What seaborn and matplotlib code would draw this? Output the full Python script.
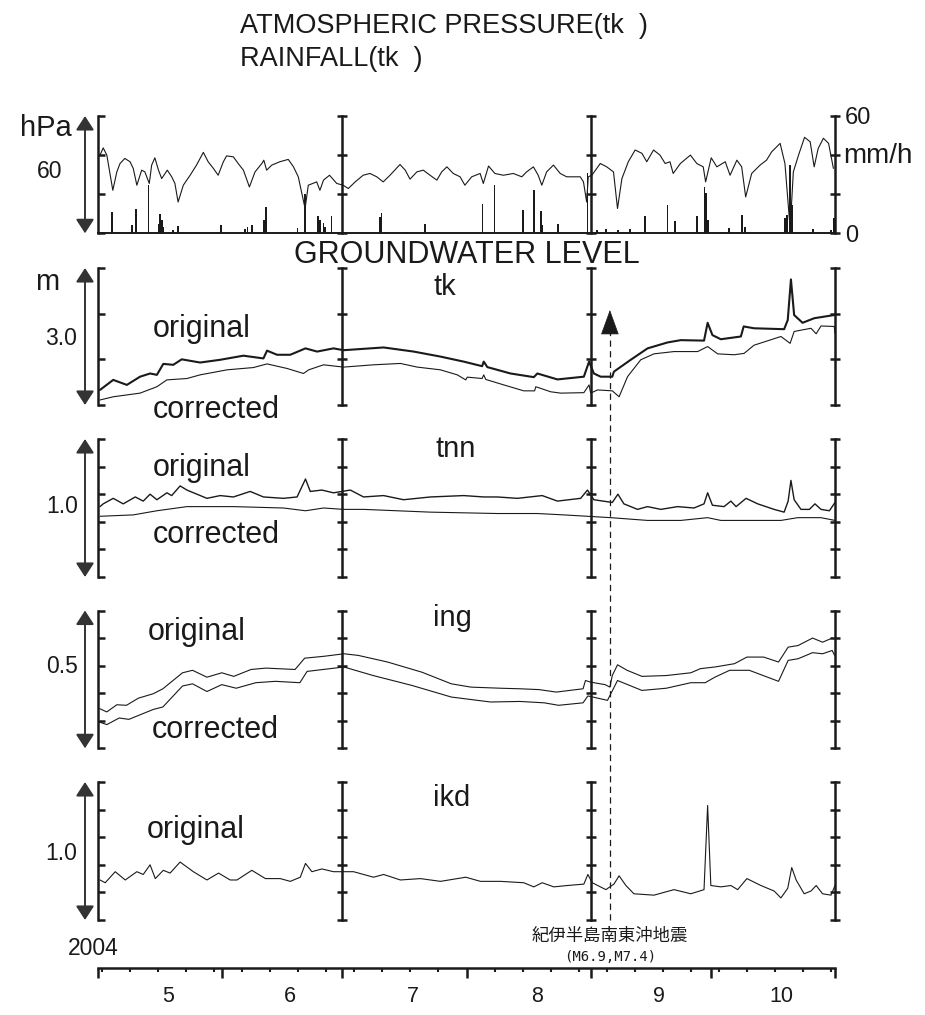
import numpy as np
import matplotlib
matplotlib.use('Agg')
import matplotlib.pyplot as plt
import seaborn as sns
from matplotlib.lines import Line2D
from matplotlib.transforms import blended_transform_factory

# ---------------- data (day 0 = 2004-05-01) ----------------
month_labels = ['5', '6', '7', '8', '9', '10']
month_start_days = [0, 31, 61, 92, 123, 153, 184]
year_label = '2004'
quake_day = 127.8
quake_name = '紀伊半島南東沖地震'
quake_mag = '(M6.9,M7.4)'

pres_day = [0.5, 1.3, 2.2, 3.7, 4.7, 5.5, 6.7, 8.0, 8.8, 9.7, 10.9, 11.7, 12.8, 13.4, 14.2, 15.1,
            15.9, 17.3, 18.4, 19.2, 20.0, 21.3, 23.0, 24.6, 26.3, 27.5, 28.8, 30.0, 31.3, 32.1,
            33.8, 35.0, 36.3, 37.8, 39.2, 40.9, 41.4, 42.1, 43.4, 45.4, 47.5, 48.8, 50.0, 51.7,
            52.5, 54.6, 55.4, 56.3, 57.8, 59.6, 61.2, 62.5, 64.2, 66.2, 67.9, 69.6, 71.2, 72.9,
            75.4, 76.7, 77.9, 79.6, 81.2, 82.9, 84.6, 85.8, 87.1, 88.7, 90.4, 91.6, 93.3, 95.4,
            96.2, 97.5, 99.1, 101.2, 103.7, 105.8, 107.0, 108.7, 109.9, 110.8, 112.0, 113.7,
            115.4, 117.0, 118.7, 120.4, 121.2, 122.0, 122.4, 123.3, 125.4, 127.0, 128.7, 129.7,
            130.8, 132.4, 134.1, 135.8, 137.0, 138.7, 140.3, 141.6, 142.8, 143.6, 145.4, 147.9,
            149.5, 151.1, 151.7, 153.1, 154.5, 156.6, 157.8, 159.5, 160.7, 161.7, 163.2, 165.3,
            166.9, 168.2, 170.3, 171.5, 172.8, 173.6, 174.9, 176.4, 177.8, 178.8, 179.8, 181.1,
            182.4, 183.6]
pres_hpa = [1010.0, 1013.7, 1010.0, 992.0, 1001.4, 1005.7, 1008.3, 1006.6, 1003.2, 994.6, 1002.3,
            1001.4, 995.5, 1004.9, 1008.6, 1002.3, 998.0, 1002.3, 998.9, 995.5, 986.0, 994.6,
            999.7, 1004.9, 1011.4, 1006.6, 1003.2, 999.7, 1006.6, 1009.6, 1009.1, 1005.7, 1002.3,
            993.7, 1001.4, 1005.7, 1007.4, 1002.3, 1004.9, 1006.6, 1007.8, 1004.0, 998.9, 982.7,
            994.6, 996.3, 992.0, 997.2, 999.7, 995.5, 994.6, 992.9, 996.3, 999.7, 1000.6, 998.9,
            996.3, 999.7, 1005.2, 1002.3, 997.7, 1001.4, 1002.3, 999.7, 997.2, 1001.4, 1004.0,
            1000.6, 998.9, 994.6, 998.9, 1000.6, 995.5, 1004.4, 1000.6, 999.7, 1000.6, 998.9,
            1001.4, 1004.0, 999.7, 994.6, 1001.4, 1004.9, 1000.6, 998.9, 998.9, 998.9, 996.3,
            986.0, 998.9, 999.7, 1005.7, 1004.0, 1001.4, 982.7, 998.0, 1006.6, 1012.6, 1010.9,
            1006.6, 1012.6, 1010.0, 1005.7, 1006.6, 1000.6, 1005.7, 1010.0, 1005.7, 1004.0, 996.3,
            1008.6, 1004.0, 1006.6, 999.7, 1007.4, 1004.0, 988.6, 1000.6, 1004.9, 1007.4, 1011.7,
            1016.0, 1005.7, 972.4, 1001.4, 1010.0, 1019.1, 1016.8, 1004.0, 1013.4, 1018.6,
            1016.0, 1003.2]

rain_day = [3.4, 8.4, 9.4, 12.6, 15.1, 15.5, 15.9, 16.3, 18.8, 20.0, 30.7, 36.7, 37.3, 38.4, 41.4,
            41.9, 49.8, 51.7, 55.0, 55.4, 56.3, 56.7, 58.3, 70.4, 70.8, 71.6, 77.1, 81.6, 96.0,
            99.0, 106.2, 108.9, 110.5, 110.9, 114.9, 122.2, 124.5, 126.8, 129.9, 132.8, 136.6,
            142.2, 144.1, 149.5, 151.4, 151.7, 152.3, 157.6, 160.7, 161.5, 171.5, 172.1, 172.8,
            173.2, 178.6, 183.0, 183.8]
rain_mmh = [11.0, 4.3, 12.5, 24.8, 5.0, 10.0, 7.0, 3.4, 1.7, 3.8, 4.3, 2.2, 3.4, 4.3, 6.8, 13.3,
            2.6, 20.0, 9.0, 6.8, 5.1, 3.4, 9.0, 8.5, 10.3, 0.9, 0.9, 4.6, 15.0, 24.8, 12.0, 21.9,
            11.6, 4.3, 4.6, 30.8, 1.7, 2.2, 1.7, 2.2, 8.9, 14.5, 6.3, 8.9, 23.9, 20.5, 6.8, 2.9,
            9.4, 3.4, 7.7, 9.4, 35.0, 14.5, 2.2, 1.7, 7.7]

tk_orig_day = [0.5, 3.8, 7.2, 10.5, 13.0, 14.7, 16.3, 18.8, 20.9, 25.5, 30.5, 36.3, 41.3, 42.2,
               44.7, 48.0, 51.8, 54.7, 58.8, 61.3, 71.3, 78.8, 85.5, 91.3, 95.9, 96.3, 97.2,
               103.0, 108.8, 109.7, 114.7, 121.3, 122.6, 123.8, 125.5, 128.4, 128.8, 133.0,
               137.2, 142.2, 145.5, 151.3, 152.2, 153.4, 155.5, 160.5, 161.2, 163.8, 171.3,
               172.2, 173.0, 173.8, 175.9, 178.8, 183.8]
tk_orig_m = [0.33, 0.55, 0.44, 0.62, 0.69, 0.66, 0.90, 0.88, 1.00, 0.93, 0.99, 1.08, 1.02, 1.19,
             1.10, 1.10, 1.24, 1.17, 1.24, 1.20, 1.26, 1.17, 1.06, 0.95, 0.85, 0.95, 0.83, 0.69,
             0.61, 0.69, 0.56, 0.62, 0.95, 0.69, 0.62, 0.62, 0.73, 0.99, 1.24, 1.37, 1.42, 1.41,
             1.80, 1.53, 1.44, 1.50, 1.72, 1.68, 1.66, 1.86, 2.75, 1.97, 1.80, 1.90, 1.97]
tk_corr_day = [0.5, 3.8, 10.5, 14.7, 17.2, 22.2, 25.5, 32.2, 38.8, 42.2, 47.2, 51.3, 52.6, 56.3,
               61.3, 68.8, 75.5, 79.7, 85.5, 89.7, 91.8, 92.2, 95.9, 96.3, 96.8, 101.3, 106.3,
               109.0, 109.3, 113.0, 115.5, 121.3, 122.6, 123.0, 124.7, 128.4, 130.1, 132.2,
               135.5, 138.8, 143.8, 149.7, 152.2, 154.7, 158.8, 161.3, 163.8, 170.5, 172.8,
               173.8, 178.0, 179.3, 180.5, 183.8, 184.0]
tk_corr_m = [0.11, 0.18, 0.26, 0.40, 0.55, 0.58, 0.66, 0.77, 0.82, 0.90, 0.80, 0.69, 0.77, 0.88,
             0.83, 0.88, 0.91, 0.83, 0.77, 0.66, 0.55, 0.61, 0.58, 0.66, 0.56, 0.44, 0.31, 0.31,
             0.40, 0.29, 0.26, 0.27, 0.44, 0.26, 0.33, 0.31, 0.18, 0.62, 0.99, 1.12, 1.17, 1.17,
             1.28, 1.12, 1.10, 1.13, 1.31, 1.50, 1.35, 1.61, 1.68, 1.56, 1.73, 1.72, 1.57]

tnn_orig_day = [0.5, 1.3, 3.8, 6.3, 9.3, 11.3, 13.0, 14.7, 17.2, 18.4, 20.5, 22.2, 27.2, 30.5,
                33.8, 38.0, 41.3, 46.3, 49.7, 51.8, 53.0, 55.9, 58.8, 63.0, 66.3, 71.3, 76.3,
                83.0, 91.3, 96.3, 99.7, 104.7, 110.9, 114.7, 120.5, 122.2, 123.8, 128.4, 129.8,
                131.3, 134.7, 137.2, 140.5, 144.7, 148.8, 151.3, 152.2, 153.4, 156.3, 158.0,
                159.3, 161.8, 164.7, 168.8, 171.3, 172.3, 173.0, 173.8, 175.5, 177.6, 179.0,
                180.5, 182.6, 184.0]
tnn_orig_m = [0.51, 0.53, 0.57, 0.53, 0.58, 0.55, 0.60, 0.56, 0.61, 0.59, 0.66, 0.63, 0.57, 0.59,
              0.58, 0.62, 0.58, 0.57, 0.58, 0.71, 0.62, 0.63, 0.61, 0.63, 0.58, 0.59, 0.56, 0.58,
              0.59, 0.58, 0.58, 0.57, 0.59, 0.55, 0.57, 0.63, 0.56, 0.54, 0.60, 0.53, 0.49, 0.51,
              0.49, 0.51, 0.50, 0.53, 0.61, 0.52, 0.51, 0.55, 0.51, 0.57, 0.53, 0.49, 0.47, 0.55,
              0.70, 0.56, 0.49, 0.49, 0.53, 0.49, 0.48, 0.54]
tnn_corr_day = [0.5, 8.8, 14.7, 22.2, 33.8, 46.3, 51.8, 56.3, 61.3, 66.3, 83.0, 99.7, 109.7, 116.3,
                122.2, 128.0, 137.2, 145.5, 152.2, 155.5, 170.5, 174.7, 180.5, 184.0]
tnn_corr_m = [0.44, 0.45, 0.48, 0.51, 0.51, 0.50, 0.48, 0.50, 0.49, 0.49, 0.47, 0.46, 0.46, 0.45,
              0.44, 0.43, 0.41, 0.41, 0.43, 0.41, 0.41, 0.43, 0.43, 0.41]

ing_orig_day = [0.4, 2.2, 4.7, 7.1, 10.1, 13.8, 16.2, 21.1, 23.6, 27.2, 30.9, 33.9, 38.2, 41.9, 49.2,
                51.6, 56.5, 61.4, 65.0, 72.3, 80.9, 88.2, 93.1, 100.4, 105.3, 110.1, 114.4, 121.1,
                121.7, 123.0, 126.6, 127.8, 128.4, 129.7, 132.1, 135.8, 141.9, 148.0, 150.4, 154.0,
                158.9, 162.0, 166.2, 169.9, 172.3, 174.8, 178.4, 180.9, 183.3]
ing_orig_m = [0.144, 0.132, 0.158, 0.156, 0.182, 0.198, 0.216, 0.274, 0.283, 0.258, 0.274, 0.261,
              0.286, 0.291, 0.286, 0.327, 0.334, 0.343, 0.337, 0.313, 0.276, 0.234, 0.222, 0.218,
              0.216, 0.213, 0.204, 0.216, 0.246, 0.240, 0.231, 0.222, 0.264, 0.303, 0.283, 0.261,
              0.264, 0.274, 0.289, 0.295, 0.307, 0.331, 0.331, 0.313, 0.367, 0.373, 0.400, 0.385,
              0.400]
ing_corr_day = [0.4, 2.2, 5.3, 7.7, 13.8, 16.2, 21.1, 23.6, 27.2, 30.9, 34.5, 39.4, 44.3, 50.4, 52.2,
                61.4, 68.7, 78.4, 88.2, 98.0, 105.3, 111.4, 115.0, 121.1, 122.3, 127.2, 129.7,
                135.8, 141.9, 148.0, 151.6, 154.0, 157.7, 162.6, 169.9, 172.3, 174.8, 178.4,
                180.9, 183.3, 183.9]
ing_corr_m = [0.095, 0.086, 0.110, 0.105, 0.141, 0.150, 0.226, 0.234, 0.206, 0.231, 0.218, 0.238,
              0.243, 0.238, 0.279, 0.295, 0.264, 0.228, 0.186, 0.168, 0.170, 0.165, 0.156, 0.165,
              0.190, 0.174, 0.246, 0.210, 0.218, 0.238, 0.238, 0.258, 0.283, 0.283, 0.243, 0.319,
              0.325, 0.347, 0.343, 0.355, 0.337]

ikd_orig_day = [0.5, 1.8, 4.3, 6.8, 9.7, 11.3, 13.0, 14.3, 16.3, 18.0, 20.5, 23.8, 27.2, 30.1, 33.0,
                34.7, 38.4, 41.8, 45.5, 48.0, 50.5, 51.8, 53.4, 55.9, 58.8, 63.8, 68.8, 71.3, 75.5,
                80.5, 85.5, 91.8, 95.5, 100.5, 106.3, 108.8, 110.9, 113.8, 117.2, 121.3, 122.3,
                123.4, 126.8, 128.8, 130.1, 131.8, 133.8, 138.8, 143.8, 148.0, 151.3, 152.2, 153.0,
                155.5, 158.0, 159.7, 162.0, 165.5, 168.8, 170.5, 172.2, 173.2, 174.3, 176.3, 178.0,
                179.3, 180.9, 183.0, 184.0]
ikd_orig_m = [0.29, 0.27, 0.35, 0.29, 0.35, 0.33, 0.40, 0.30, 0.36, 0.34, 0.42, 0.35, 0.29, 0.34,
              0.29, 0.29, 0.36, 0.30, 0.30, 0.28, 0.31, 0.41, 0.35, 0.37, 0.35, 0.35, 0.31, 0.33,
              0.29, 0.30, 0.28, 0.31, 0.28, 0.28, 0.27, 0.24, 0.27, 0.24, 0.25, 0.26, 0.33, 0.27,
              0.22, 0.26, 0.32, 0.25, 0.19, 0.18, 0.22, 0.19, 0.22, 0.83, 0.25, 0.24, 0.25, 0.22,
              0.30, 0.25, 0.21, 0.16, 0.23, 0.38, 0.29, 0.19, 0.21, 0.25, 0.19, 0.18, 0.25]

pres_ticks = [970, 990, 1010, 1030]
rain_ticks = [0, 20, 40, 60]
rain_ticklabels = ['0', '', '', '60']
tk_ticks = [0.0, 1.0, 2.0, 3.0]
tnn_ticks = [0.0, 0.2, 0.4, 0.6, 0.8, 1.0]
ing_ticks = [0.0, 0.1, 0.2, 0.3, 0.4, 0.5]
ikd_ticks = [0.0, 0.2, 0.4, 0.6, 0.8, 1.0]

# ---------------- style ----------------
INK = '#1a1a1a'
sns.set_style('white', rc={'axes.edgecolor': INK, 'text.color': INK,
                           'xtick.color': INK, 'ytick.color': INK})
plt.rcParams['font.family'] = ['Liberation Sans', 'Noto Sans CJK JP', 'DejaVu Sans']

W, H = 925, 1015
X0, X1 = 98, 835
LW = 1.8
DAY_MAX = month_start_days[-1]
bracket_days = [month_start_days[2], month_start_days[4], month_start_days[6]]
ARROW_X = (85 - X0) / (X1 - X0)


def fx(px):
    return px / W


def fy(py):
    return 1 - py / H


fig = plt.figure(figsize=(W / 100, H / 100), dpi=100)
fig.patch.set_facecolor('white')


def add_panel(top, bottom):
    return fig.add_axes([fx(X0), fy(bottom), fx(X1) - fx(X0), (bottom - top) / H])


def style_panel(ax, ticks, bottom_spine=False):
    ax.set_xlim(0, DAY_MAX)
    ax.set_ylim(ticks[0], ticks[-1])
    ax.set_xlabel('')
    ax.set_ylabel('')
    ax.set_facecolor('none')
    ax.spines['top'].set_visible(False)
    ax.spines['right'].set_visible(False)
    ax.spines['bottom'].set_visible(bottom_spine)
    ax.spines['bottom'].set_linewidth(1.4)
    ax.spines['left'].set_linewidth(LW)
    ax.set_xticks([])
    ax.set_yticks(ticks)
    ax.tick_params(axis='y', which='major', left=True, right=False, direction='in',
                   length=5, width=LW, labelleft=False)
    for d in bracket_days:
        sec = ax.secondary_yaxis(d / DAY_MAX)
        sec.set_yticks(ticks)
        sec.tick_params(axis='y', direction='inout', length=6.5, width=LW,
                        labelleft=False, labelright=False)
        for sp in sec.spines.values():
            sp.set_linewidth(LW)
    ax.annotate('', xy=(ARROW_X, 1), xytext=(ARROW_X, 0), xycoords='axes fraction',
                textcoords='axes fraction', annotation_clip=False,
                arrowprops=dict(arrowstyle='<|-|>,head_length=0.85,head_width=0.55',
                                mutation_scale=10, color='#333333', lw=1.4,
                                shrinkA=0, shrinkB=0))


def line(ax, x, y, lw=0.8):
    sns.lineplot(x=x, y=y, ax=ax, color=INK, linewidth=lw, estimator=None, sort=False)


# ---- pressure / rainfall panel ----
ax_p = add_panel(116, 233.3)
line(ax_p, pres_day, pres_hpa, lw=0.8)
style_panel(ax_p, pres_ticks, bottom_spine=True)
ax_r = ax_p.twinx()
ax_r.bar(rain_day, rain_mmh, width=0.45, color=INK, linewidth=0)
ax_r.set_ylim(rain_ticks[0], rain_ticks[-1])
ax_r.set_xlim(0, DAY_MAX)
ax_r.set_yticks(rain_ticks)
ax_r.set_yticklabels(rain_ticklabels)
ax_r.tick_params(axis='y', length=0, pad=7, labelsize=17)
for sp in ax_r.spines.values():
    sp.set_visible(False)

# ---- groundwater panels ----
ax_tk = add_panel(268, 405)
line(ax_tk, tk_orig_day, tk_orig_m, lw=1.5)
line(ax_tk, tk_corr_day, tk_corr_m, lw=0.8)
style_panel(ax_tk, tk_ticks)

ax_tnn = add_panel(439, 577)
line(ax_tnn, tnn_orig_day, tnn_orig_m, lw=1.0)
line(ax_tnn, tnn_corr_day, tnn_corr_m, lw=0.8)
style_panel(ax_tnn, tnn_ticks)

ax_ing = add_panel(610.5, 748.3)
line(ax_ing, ing_orig_day, ing_orig_m, lw=0.8)
line(ax_ing, ing_corr_day, ing_corr_m, lw=0.8)
style_panel(ax_ing, ing_ticks)

ax_ikd = add_panel(782, 920)
line(ax_ikd, ikd_orig_day, ikd_orig_m, lw=0.8)
style_panel(ax_ikd, ikd_ticks)

# ---- time axis ----
ax_t = fig.add_axes([fx(X0), fy(968), fx(X1) - fx(X0), 0.0005])
ax_t.set_facecolor('none')
ax_t.set_xlim(0, DAY_MAX)
for s in ['top', 'left', 'right']:
    ax_t.spines[s].set_visible(False)
ax_t.spines['bottom'].set_linewidth(LW)
ax_t.set_yticks([])
ax_t.set_xticks(month_start_days)
ax_t.set_xticks(np.arange(1, DAY_MAX, 7), minor=True)
ax_t.tick_params(axis='x', which='major', bottom=True, top=False, direction='out',
                 length=7, width=LW, labelbottom=False)
ax_t.tick_params(axis='x', which='minor', bottom=True, top=False, direction='out',
                 length=3, width=1.5, labelbottom=False)
tr_t = blended_transform_factory(ax_t.transData, fig.transFigure)
for lab, a, b in zip(month_labels, month_start_days[:-1], month_start_days[1:]):
    ax_t.text((a + b) / 2 + 2, fy(997), lab, transform=tr_t, ha='center', va='center',
              fontsize=15.5)

# ---- earthquake marker ----
tr_q = blended_transform_factory(ax_ikd.transData, fig.transFigure)
fig.add_artist(Line2D([quake_day, quake_day], [fy(920), fy(332)], transform=tr_q,
                      color=INK, lw=0.9, linestyle=(0, (5, 3.5))))
ax_tk.annotate('', xy=(quake_day, fy(310)), xytext=(quake_day, fy(334)),
               xycoords=('data', 'figure fraction'), textcoords=('data', 'figure fraction'),
               annotation_clip=False,
               arrowprops=dict(arrowstyle='-|>,head_length=1.65,head_width=0.6',
                               mutation_scale=10, color=INK, lw=0.5, shrinkA=0, shrinkB=0))
ax_t.text(quake_day, fy(935.5), quake_name, transform=tr_t, ha='center', va='center',
          fontsize=12.5, family=['Noto Sans CJK JP', 'DejaVu Sans'])
ax_t.text(quake_day, fy(957), quake_mag, transform=tr_t, ha='center', va='center',
          fontsize=10, family=['DejaVu Sans Mono'])

# ---- texts ----
def ftext(px, py, s, size, ha='left', va='baseline', **kw):
    fig.text(fx(px), fy(py), s, fontsize=size, ha=ha, va=va, **kw)


ftext(240, 33, 'ATMOSPHERIC PRESSURE(tk  )', 19.5)
ftext(240, 66, 'RAINFALL(tk  )', 19.5)
ftext(72, 136, 'hPa', 21, ha='right')
ftext(50, 178, '60', 16.5, ha='center')
ftext(843, 163, 'mm/h', 20)
ftext(467, 263, 'GROUNDWATER LEVEL', 22, ha='center')

ftext(47.5, 290, 'm', 21, ha='center')
ftext(61, 345, '3.0', 16.5, ha='center')
ftext(62, 513, '1.0', 16.5, ha='center')
ftext(62, 673, '0.5', 16.5, ha='center')
ftext(61, 860, '1.0', 16.5, ha='center')

ftext(445, 295, 'tk', 21, ha='center')
ftext(456, 457, 'tnn', 21, ha='center')
ftext(452, 626, 'ing', 21, ha='center')
ftext(452, 806, 'ikd', 21, ha='center')

ftext(153, 337, 'original', 22)
ftext(153, 418, 'corrected', 22)
ftext(153, 476, 'original', 22)
ftext(153, 543, 'corrected', 22)
ftext(148, 640, 'original', 22)
ftext(152, 738, 'corrected', 22)
ftext(147, 838, 'original', 22)

ftext(68, 955, year_label, 16.5)

fig.savefig('out.png', dpi=100, facecolor='white')
